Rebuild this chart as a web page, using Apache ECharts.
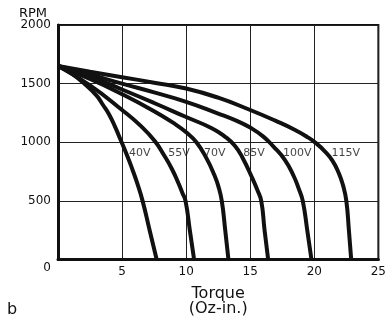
<!DOCTYPE html>
<html>
<head>
<meta charset="utf-8">
<script src="https://cdn.jsdelivr.net/npm/echarts@6/dist/echarts.min.js"></script>
<style>
html,body{margin:0;padding:0;background:#fff;}
#c{width:389px;height:322px;}
</style>
</head>
<body>
<div id="c"></div>
<script>
// Torque (Oz-in.) vs RPM for each voltage
const voltages = ['40V', '55V', '70V', '85V', '100V', '115V'];
const v40  = [[0,1650],[1,1590],[2,1505],[3,1400],[3.5,1320],[4,1235],[4.5,1120],[4.85,1030],[5.4,885],[5.8,770],[6.2,645],[6.6,500],[7.15,250],[7.7,0]];
const v55  = [[0,1650],[2.5,1485],[5,1275],[6.5,1135],[7.55,1010],[8.3,885],[8.9,770],[9.4,650],[9.7,570],[9.95,500],[10.3,240],[10.62,0]];
const v70  = [[0,1650],[2.5,1540],[5,1410],[7.5,1265],[9,1165],[10,1085],[10.8,1000],[11.6,860],[12.2,720],[12.5,630],[12.78,500],[13.05,250],[13.3,0]];
const v85  = [[0,1650],[2.5,1560],[5,1450],[7.5,1335],[10,1215],[12,1120],[13,1050],[13.8,970],[14.4,868],[15.2,685],[15.55,595],[15.86,500],[16.12,250],[16.4,0]];
const v100 = [[0,1650],[2.5,1578],[5,1500],[7.5,1425],[10,1345],[12.5,1245],[14,1180],[15,1125],[16,1050],[16.8,965],[17.7,850],[18.4,710],[18.8,600],[19.1,500],[19.45,250],[19.78,0]];
const v115 = [[0,1650],[2.5,1602],[5,1555],[7.5,1508],[10,1458],[12.5,1380],[15,1275],[17,1182],[18.5,1105],[19.5,1042],[20.1,995],[20.8,925],[21.4,845],[21.9,740],[22.25,630],[22.5,500],[22.7,250],[22.88,0]];
// label anchor points (torque, rpm)
const labelTorque = [5.55, 8.6, 11.4, 14.45, 17.55, 21.35];
const labelRpm = [905, 905, 905, 905, 905, 905];
const xTicks = [0, 5, 10, 15, 20, 25];
const yTicks = [0, 500, 1000, 1500, 2000];

const curves = [v40, v55, v70, v85, v100, v115];
const font = 'DejaVu Sans';

const chart = echarts.init(document.getElementById('c'), null, {renderer: 'canvas'});
const series = curves.map((d, i) => ({
  name: voltages[i],
  type: 'line',
  data: d,
  showSymbol: false,
  symbol: 'none',
  smooth: 0.5,
  lineStyle: {color: '#111', width: 4},
  silent: true,
  z: 3
}));
series.push({
  type: 'scatter',
  symbolSize: 0,
  data: voltages.map((v, i) => [labelTorque[i], labelRpm[i], v]),
  label: {
    show: true,
    position: 'right',
    distance: 0,
    formatter: p => p.data[2],
    color: '#111',
    fontFamily: font,
    fontSize: 11
  },
  silent: true,
  z: 4
});

chart.setOption({
  animation: false,
  backgroundColor: '#fff',
  grid: {left: 58, right: 10, top: 25, bottom: 62, show: true, borderColor: '#111', borderWidth: 2},
  xAxis: {
    type: 'value', min: xTicks[0], max: xTicks[xTicks.length - 1], interval: 5,
    axisLine: {show: true, lineStyle: {color: '#111', width: 3}},
    axisTick: {show: false},
    splitLine: {show: true, lineStyle: {color: '#222', width: 1}},
    axisLabel: {
      margin: 6, color: '#111', fontFamily: font, fontSize: 12,
      formatter: v => v === 0 ? '' : String(v)
    },
    name: 'Torque\n(Oz-in.)',
    nameLocation: 'middle',
    nameGap: 27,
    nameTextStyle: {color: '#111', fontFamily: font, fontSize: 16, lineHeight: 15, verticalAlign: 'top'}
  },
  yAxis: {
    type: 'value', min: yTicks[0], max: yTicks[yTicks.length - 1], interval: 500,
    axisLine: {show: true, lineStyle: {color: '#111', width: 3}},
    axisTick: {show: false},
    splitLine: {show: true, lineStyle: {color: '#222', width: 1}},
    axisLabel: {
      margin: 7, color: '#111', fontFamily: font, fontSize: 12,
      formatter: v => v === 0 ? '{z|0}' : String(v),
      rich: {z: {padding: [17, 0, 0, 0], fontFamily: font, fontSize: 12, color: '#111'}}
    }
  },
  graphic: [{
    type: 'text', left: 19, top: 7,
    style: {text: 'RPM', font: '13px "DejaVu Sans"', fill: '#111'}
  }, {
    type: 'text', left: 7, top: 302,
    style: {text: 'b', font: '16px "DejaVu Sans"', fill: '#111'}
  }],
  series: series
});
</script>
</body>
</html>
